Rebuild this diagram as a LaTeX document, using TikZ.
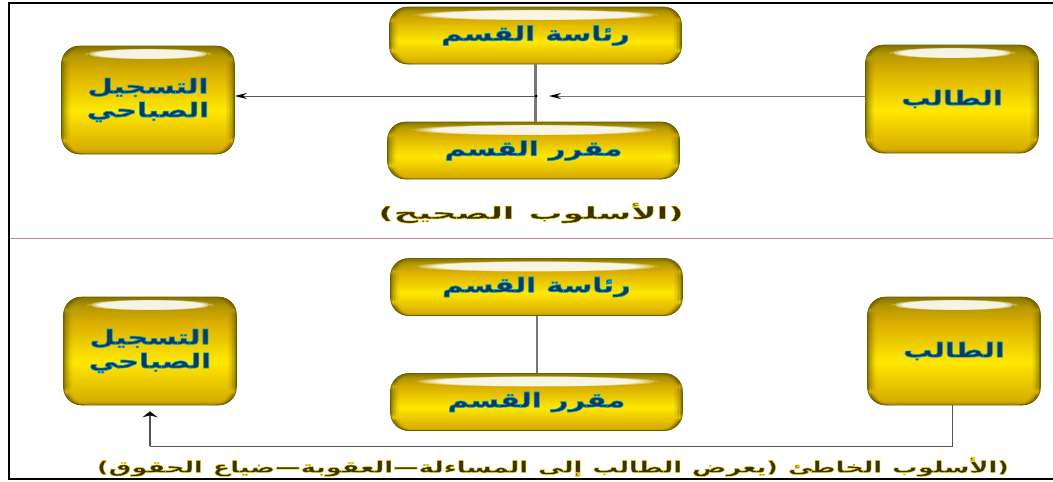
\documentclass[tikz,border=0pt]{standalone}
\usepackage{fontspec}
\usetikzlibrary{fadings,arrows.meta}
\TeXXeTstate=1
\newfontfamily\arabicfont[Script=Arabic,FakeStretch=1.45]{DejaVu Sans Bold}
\newfontfamily\capfont[Script=Arabic,FakeStretch=1.6]{DejaVu Sans Bold}
\newfontfamily\capwidefont[Script=Arabic,FakeStretch=2.0]{DejaVu Sans Bold}
\definecolor{boxtext}{HTML}{0A3A5C}
\definecolor{captext}{HTML}{3A3000}
\definecolor{edgeol}{HTML}{6E6000}
\definecolor{wirecol}{HTML}{555555}
\definecolor{rulecol}{HTML}{C48A98}
\definecolor{goldc}{HTML}{D8AC00}
\definecolor{goldy}{HTML}{FFE800}
\definecolor{goldo}{HTML}{B09600}
\definecolor{goldd}{HTML}{857200}
\definecolor{goldb}{HTML}{A88800}
\pgfdeclareverticalshading{glossy}{100bp}{
  color(0bp)=(goldb);
  color(25bp)=(goldb);
  color(27bp)=(goldc);
  color(45bp)=(goldy);
  color(64bp)=(goldc);
  color(71bp)=(goldo);
  color(75bp)=(goldd);
  color(100bp)=(goldd)}
\newcommand{\boxglow}{\special{pdf:code 2 Tr 0.05 0.6 0.8 RG 0.7 w}}
\newcommand{\capglow}{\special{pdf:code 2 Tr 0.95 0.85 0.1 RG 0.5 w}}
\newcommand{\noglow}{\special{pdf:code 0 Tr}}
\newcommand{\artext}[1]{\beginR #1\endR}
\tikzset{
  x=1pt,y=-1pt,
  glossbox/.style={shading=glossy,draw=edgeol,line width=0.6pt,rounded corners=18pt,
    inner sep=0pt,align=center,text=boxtext,
    font=\arabicfont\fontsize{20}{26}\selectfont,
    path picture={
      \foreach \i/\o in {0/.75,1.5/.55,3/.38,4.5/.24,6/.12,7.5/.05}{
        \fill[edgeol,opacity=\o] ([xshift=\i pt]path picture bounding box.north west) rectangle ([xshift=\i pt+1.5pt]path picture bounding box.south west);
        \fill[edgeol,opacity=\o] ([xshift=-\i pt]path picture bounding box.north east) rectangle ([xshift=-\i pt-1.5pt]path picture bounding box.south east);
      }
      \fill[white,opacity=.9,path fading=circle with fuzzy edge 20 percent] ([xshift=22pt,yshift=-2pt]path picture bounding box.north west) rectangle ([xshift=-22pt,yshift=-13pt]path picture bounding box.north east);
    }},
  wide/.style={glossbox,minimum width=292pt,minimum height=57pt},
  tall/.style={glossbox,minimum width=173pt,minimum height=108pt},
  caption/.style={inner sep=0pt,text=captext,font=\capfont\fontsize{16}{18}\selectfont},
  captionwide/.style={caption,font=\capwidefont\fontsize{17}{19}\selectfont},
  wire/.style={draw=wirecol,line width=1pt},
  bar/.style={draw=wirecol!80,line width=2.4pt},
  tip/.style={-{Stealth[length=12pt,width=6pt,color=black]}},
  tipwide/.style={-{Stealth[length=6pt,width=15pt,color=black]}}
}
\begin{document}
\begin{tikzpicture}
\useasboundingbox (0,0) rectangle (1053,482);
\fill[white] (0,0) rectangle (1053,482);
\draw[black,line width=2.4pt] (1053,3) -- (9,3) -- (9,479) -- (1053,479);
\draw[rulecol,line width=0.9pt] (10,238) -- (1053,238);

\node[wide] (ct) at (535.5,35.5) {\boxglow\artext{رئاسة القسم}\noglow};
\node[wide] (cm) at (533.5,150.5) {\boxglow\artext{مقرر القسم}\noglow};
\node[tall] (lt) at (148,100) {\raisebox{4pt}{\shortstack{\boxglow\artext{التسجيل}\noglow\\[2pt]\boxglow\artext{الصباحي}\noglow}}};
\node[tall] (rt) at (952,99) {\raisebox{3pt}{\boxglow\artext{الطالب}\noglow}};
\node[captionwide] (capa) at (531,213) {\spaceskip=14pt\capglow\artext{(الأسلوب الصحيح)}\noglow};

\node[wide] (cb) at (536.5,287) {\boxglow\artext{رئاسة القسم}\noglow};
\node[wide] (mb) at (536.5,402) {\boxglow\artext{مقرر القسم}\noglow};
\node[tall] (lb) at (150,351) {\raisebox{3pt}{\shortstack{\boxglow\artext{التسجيل}\noglow\\[2pt]\boxglow\artext{الصباحي}\noglow}}};
\node[tall] (rb) at (954,351) {\raisebox{3pt}{\boxglow\artext{الطالب}\noglow}};
\node[caption] (capb) at (553,467) {\spaceskip=10pt\capglow\artext{(الأسلوب الخاطئ (يعرض الطالب إلى المساءلة—العقوبة—ضياع الحقوق)}\noglow};

\coordinate (ja) at (536,96);
\coordinate (jb) at (549,96);
\coordinate (bend) at (952,446);
\coordinate (bendl) at (lb.south |- bend);
\draw[bar] (ct.south) -- (ct.south |- cm.north);
\draw[wire,draw=wirecol!80,tip] (rt.west |- jb) -- (jb);
\draw[wire,tip] (ja) -- (lt.east |- ja);
\fill[black] (ja) circle (1.5pt);
\draw[bar,line width=2pt] (cb.south) -- (mb.north);
\draw[wire] (rb.south -| bend) -- (bend) -- (bendl);
\draw[wire,line width=2pt,tipwide,shorten >=6pt] (bendl) -- (lb.south);
\end{tikzpicture}
\end{document}
